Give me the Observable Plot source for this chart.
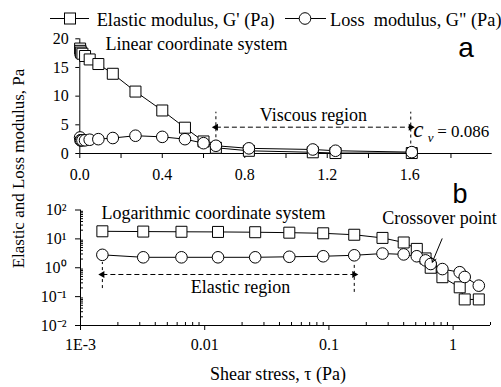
<!DOCTYPE html>
<html>
<head>
<meta charset="utf-8">
<script src="https://cdn.jsdelivr.net/npm/d3@7"></script>
<script src="https://cdn.jsdelivr.net/npm/@observablehq/plot@0.6"></script>
<style>
html,body{margin:0;padding:0;background:#fff;}
#chart{position:relative;width:501px;height:387px;overflow:hidden;background:#fff;}
#chart > svg{position:absolute;left:0;}
</style>
</head>
<body>
<div id="chart"></div>
<script>
// ---- data ----
const stress  = [0.0015, 0.0032, 0.0065, 0.0128, 0.0255, 0.048, 0.09, 0.16, 0.27, 0.40, 0.51, 0.60, 0.66, 0.82, 1.13, 1.24, 1.61];
const elastic = [18.3, 17.9, 17.6, 17.4, 17.0, 16.4, 15.6, 13.9, 10.8, 7.5, 4.5, 2.1, 1.0, 0.47, 0.21, 0.08, 0.08];
const loss    = [2.8, 2.3, 2.3, 2.3, 2.3, 2.4, 2.5, 2.7, 3.1, 2.9, 2.5, 1.8, 1.35, 0.9, 0.7, 0.48, 0.24];
const seriesNames = ["Elastic modulus, G' (Pa)", "Loss  modulus, G\" (Pa)"];

// ---- ticks ----
const linXTicks = [0, 0.2, 0.4, 0.6, 0.8, 1.0, 1.2, 1.4, 1.6, 1.8];
const linXLabeled = [0, 0.4, 0.8, 1.2, 1.6];
const linYTicks = [0, 5, 10, 15, 20];
const logXTicks = [0.001, 0.01, 0.1, 1];
const logXLabels = ["1E-3", "0.01", "0.1", "1"];
const logYTicks = [0.01, 0.1, 1, 10, 100];
const logYLabels = ["10\u207B\u00B2", "10\u207B\u00B9", "10\u2070", "10\u00B9", "10\u00B2"];

// ---- annotations ----
const viscousBounds = [0.66, 1.605];
const elasticBounds = [0.0015, 0.16];
const cvValue = "= 0.086";

const serif = '"Liberation Serif","Times New Roman",serif';
const sans = '"Liberation Sans",Arial,sans-serif';
const rows = stress.map((s, i) => ({s, g1: elastic[i], g2: loss[i]}));
const dash = "5,3";
const near = (a, b) => Math.abs(a - b) < 1e-9;
const nearLog = (a, b) => Math.abs(Math.log10(a / b)) < 1e-6;

const logXMinor = [];
for (const dec of [0.001, 0.01, 0.1, 1]) for (let m = 2; m <= 9; m++) if (dec * m <= 2) logXMinor.push(dec * m);
const logYMinor = [];
for (const dec of [0.01, 0.1, 1, 10]) for (let m = 2; m <= 9; m++) logYMinor.push(dec * m);

const baseStyle = {fontFamily: serif, fontSize: "16px", background: "transparent", overflow: "visible", color: "#000"};

const seriesMarks = [
  Plot.line(rows, {x: "s", y: "g1", stroke: "black", strokeWidth: 1}),
  Plot.dot(rows, {x: "s", y: "g1", symbol: "square", r: 6.2, fill: "white", stroke: "black", strokeWidth: 1}),
  Plot.line(rows, {x: "s", y: "g2", stroke: "black", strokeWidth: 1}),
  Plot.dot(rows, {x: "s", y: "g2", symbol: "circle", r: 5.8, fill: "white", stroke: "black", strokeWidth: 1})
];

const topPlot = Plot.plot({
  width: 501, height: 185,
  marginLeft: 79.3, marginRight: 9.3, marginTop: 38.3, marginBottom: 32,
  style: baseStyle,
  x: {domain: [0, 2]},
  y: {domain: [0, 20]},
  marks: [
    Plot.axisX({ticks: linXTicks, tickFormat: d => linXLabeled.some(v => near(v, d)) ? d.toFixed(1) : "", tickSize: 5, tickPadding: 10, label: null, fontSize: 16}),
    Plot.axisY({ticks: linYTicks, tickSize: 4, tickPadding: 7, label: null, fontSize: 16}),
    Plot.ruleY([0]),
    Plot.ruleX([0]),
    Plot.ruleX(viscousBounds, {x: d => d, y1: (d, i) => i ? 0.6 : 1.7, y2: 7.2, strokeDasharray: "3,3"}),
    Plot.link([viscousBounds], {x1: d => d[0], x2: d => d[1], y1: 4.59, y2: 4.59, strokeDasharray: dash}),
    Plot.dot(viscousBounds, {x: d => d, y: 4.59, symbol: "triangle", r: 2.6, fill: "black", stroke: "none", rotate: (d, i) => i ? 90 : -90}),
    ...seriesMarks,
    Plot.text(["Linear coordinate system"], {x: 0.1245, y: 18.97, text: d => d, textAnchor: "start", fontSize: 18}),
    Plot.text(["Viscous region"], {x: 1.133, y: 6.64, text: d => d, textAnchor: "middle", fontSize: 18}),
    Plot.text(["c"], {x: 1.617, y: 4.13, text: d => d, textAnchor: "start", fontSize: 23, fontStyle: "italic"}),
    Plot.text(["v"], {x: 1.688, y: 2.65, text: d => d, textAnchor: "start", fontSize: 13, fontStyle: "italic"}),
    Plot.text([cvValue], {x: 1.733, y: 3.78, text: d => d, textAnchor: "start", fontSize: 17})
  ]
});
topPlot.style.top = "0px";

const botPlot = Plot.plot({
  width: 501, height: 185,
  marginLeft: 80, marginRight: 11, marginTop: 34.5, marginBottom: 35,
  style: baseStyle,
  x: {type: "log", domain: [0.001, 2]},
  y: {type: "log", domain: [0.01, 100]},
  marks: [
    Plot.axisX({ticks: logXTicks, tickFormat: d => logXLabels[logXTicks.findIndex(v => nearLog(v, d))], tickSize: 5, tickPadding: 8, label: null, fontSize: 16}),
    Plot.axisX({ticks: logXMinor, tickFormat: () => "", tickSize: 3, dy: -3, label: null}),
    Plot.axisY({ticks: logYTicks, tickFormat: d => logYLabels[logYTicks.findIndex(v => nearLog(v, d))], tickSize: 5, tickPadding: 9, label: null, fontSize: 16}),
    Plot.axisY({ticks: logYMinor, tickFormat: () => "", tickSize: 3, dx: 3, label: null}),
    Plot.ruleY([0.01]),
    Plot.ruleX([0.001]),
    Plot.ruleX(elasticBounds, {x: d => d, y1: (d, i) => i ? 0.14 : 0.19, y2: 1.52, strokeDasharray: "3,3"}),
    Plot.link([elasticBounds], {x1: d => d[0], x2: d => d[1], y1: 0.584, y2: 0.584, strokeDasharray: dash}),
    Plot.dot(elasticBounds, {x: d => d, y: 0.584, symbol: "triangle", r: 2.6, fill: "black", stroke: "none", rotate: (d, i) => i ? 90 : -90}),
    ...seriesMarks,
    Plot.arrow([{x1: 0.815, y1: 10.06, x2: 0.68, y2: 1.56}], {x1: "x1", y1: "y1", x2: "x2", y2: "y2", headLength: 7, strokeWidth: 1, stroke: "black"}),
    Plot.text(["Logarithmic coordinate system"], {x: 0.001476, y: 78.7, text: d => d, textAnchor: "start", fontSize: 18}),
    Plot.text(["Crossover point"], {x: 0.2686, y: 52, text: d => d, textAnchor: "start", fontSize: 18}),
    Plot.text(["Elastic region"], {x: 0.0194, y: 0.204, text: d => d, textAnchor: "middle", fontSize: 18})
  ]
});
botPlot.style.top = "175px";

// ---- overlay: legend, axis titles, panel letters ----
const ov = d3.create("svg").attr("width", 501).attr("height", 387)
  .style("top", "0px").style("pointer-events", "none")
  .attr("font-family", serif);
const lg = ov.append("g").attr("stroke", "black").attr("fill", "white").attr("stroke-width", 1);
lg.append("line").attr("x1", 50).attr("x2", 89).attr("y1", 18.5).attr("y2", 18.5);
lg.append("rect").attr("x", 64.5).attr("y", 13).attr("width", 11).attr("height", 11);
lg.append("line").attr("x1", 285).attr("x2", 326).attr("y1", 18.5).attr("y2", 18.5);
lg.append("circle").attr("cx", 305).attr("cy", 18.5).attr("r", 5.8);
ov.append("text").attr("x", 96.7).attr("y", 25.5).attr("font-size", 18.3).attr("xml:space", "preserve").style("white-space", "pre").text(seriesNames[0]);
ov.append("text").attr("x", 330).attr("y", 25.5).attr("font-size", 18.3).attr("xml:space", "preserve").style("white-space", "pre").text(seriesNames[1]);
ov.append("text").attr("transform", "translate(24,168.5) rotate(-90)").attr("text-anchor", "middle").attr("font-size", 17).text("Elastic and Loss modulus, Pa");
ov.append("text").attr("x", 278).attr("y", 380).attr("text-anchor", "middle").attr("font-size", 18).text("Shear stress, \u03C4 (Pa)");
ov.append("text").attr("x", 466).attr("y", 57).attr("text-anchor", "middle").attr("font-family", sans).attr("font-size", 28).text("a");
ov.append("text").attr("x", 460).attr("y", 203).attr("text-anchor", "middle").attr("font-family", sans).attr("font-size", 27).text("b");

const chart = document.getElementById("chart");
chart.append(topPlot, botPlot, ov.node());
</script>
</body>
</html>
